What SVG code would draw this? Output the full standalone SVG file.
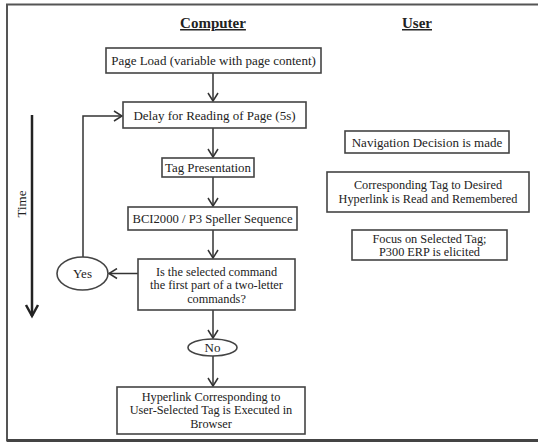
<svg xmlns="http://www.w3.org/2000/svg" width="538" height="443" viewBox="0 0 538 443">
<defs>
<marker id="ah" markerWidth="12" markerHeight="12" refX="10" refY="6" orient="auto" markerUnits="userSpaceOnUse">
<polyline points="2,1 10,6 2,11" fill="none" stroke="#333" stroke-width="1.5"/>
</marker>
</defs>
<style>
.box{fill:#fff;stroke:#444;stroke-width:1.6}
.t{font-family:"Liberation Serif","Times New Roman",serif;font-size:13px;fill:#222;text-anchor:middle}
.m{font-size:12.3px}
.h{font-family:"Liberation Serif","Times New Roman",serif;font-size:15px;font-weight:bold;fill:#222;text-anchor:middle;text-decoration:underline}
.c{fill:none;stroke:#333;stroke-width:1.5}
</style>
<rect x="0" y="0" width="538" height="443" fill="#fff"/>
<rect x="7" y="4.5" width="540" height="436" fill="none" stroke="#555" stroke-width="2"/>
<line x1="7" y1="440.5" x2="538" y2="440.5" stroke="#444" stroke-width="3"/>
<text class="h" x="213" y="28">Computer</text>
<text class="h" x="417" y="28">User</text>
<g id="time">
<line x1="32" y1="115" x2="32" y2="316" stroke="#222" stroke-width="2.5"/>
<polyline points="26,305 32,316 38,305" fill="none" stroke="#222" stroke-width="2.5"/>
<text class="t" transform="translate(26,204) rotate(-90)">Time</text>
</g>
<g id="connectors">
<line class="c" x1="213" y1="73" x2="213" y2="101" marker-end="url(#ah)"/>
<line class="c" x1="213" y1="128" x2="213" y2="157" marker-end="url(#ah)"/>
<line class="c" x1="213" y1="177" x2="213" y2="206" marker-end="url(#ah)"/>
<line class="c" x1="213" y1="230" x2="213" y2="258" marker-end="url(#ah)"/>
<line class="c" x1="138" y1="273.5" x2="109" y2="273.5" marker-end="url(#ah)"/>
<polyline class="c" points="83,257 83,116 122,116" marker-end="url(#ah)"/>
<line class="c" x1="213" y1="310" x2="213" y2="338" marker-end="url(#ah)"/>
<line class="c" x1="213" y1="356" x2="213" y2="386" marker-end="url(#ah)"/>
</g>
<g id="page-load">
<rect class="box" x="106" y="48" width="215" height="25"/>
<text class="t" x="213.5" y="65">Page Load (variable with page content)</text>
</g>
<g id="delay">
<rect class="box" x="123" y="102" width="183" height="26"/>
<text class="t" x="214.5" y="119.5">Delay for Reading of Page (5s)</text>
</g>
<g id="tag-presentation">
<rect class="box" x="162" y="158" width="92" height="19"/>
<text class="t" x="208" y="172" textLength="86" lengthAdjust="spacingAndGlyphs">Tag Presentation</text>
</g>
<g id="bci">
<rect class="box" x="128" y="207" width="169" height="23"/>
<text class="t" x="212.5" y="223" textLength="160" lengthAdjust="spacingAndGlyphs">BCI2000 / P3 Speller Sequence</text>
</g>
<g id="decision">
<rect class="box" x="138" y="259" width="157" height="51"/>
<text class="t m" x="216.5" y="275.5">Is the selected command</text>
<text class="t m" x="216.5" y="289">the first part of a two-letter</text>
<text class="t m" x="216.5" y="302.5">commands?</text>
</g>
<g id="yes">
<ellipse class="box" cx="82.5" cy="273.5" rx="25.5" ry="16.5"/>
<text class="t" x="82.5" y="278">Yes</text>
</g>
<g id="no">
<ellipse class="box" cx="212.5" cy="347.5" rx="24.5" ry="8.5"/>
<text class="t" x="212.5" y="351.5">No</text>
</g>
<g id="execute">
<rect class="box" x="117" y="387" width="188" height="47"/>
<text class="t m" x="211" y="400.5">Hyperlink Corresponding to</text>
<text class="t m" x="211" y="414">User-Selected Tag is Executed in</text>
<text class="t m" x="211" y="427.5">Browser</text>
</g>
<g id="navigation">
<rect class="box" x="345" y="131" width="164" height="22"/>
<text class="t" x="427" y="146.5">Navigation Decision is made</text>
</g>
<g id="corresponding">
<rect class="box" x="327" y="172" width="202" height="40"/>
<text class="t m" x="428" y="188.5">Corresponding Tag to Desired</text>
<text class="t m" x="428" y="203">Hyperlink is Read and Remembered</text>
</g>
<g id="focus">
<rect class="box" x="352" y="230" width="155" height="30"/>
<text class="t m" x="429.5" y="242.5">Focus on Selected Tag;</text>
<text class="t m" x="429.5" y="256">P300 ERP is elicited</text>
</g>
</svg>
